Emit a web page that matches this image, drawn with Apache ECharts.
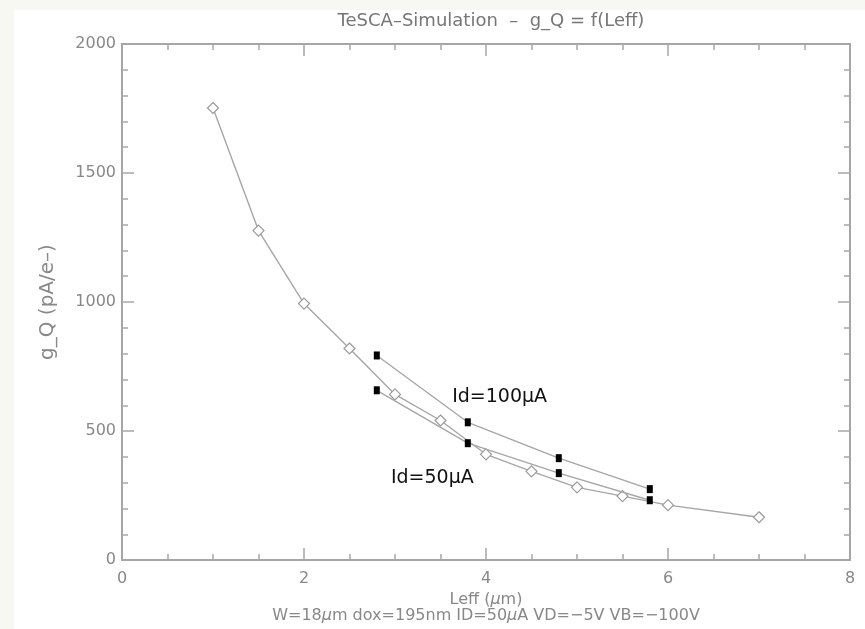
<!DOCTYPE html>
<html><head><meta charset="utf-8">
<script src="https://cdn.jsdelivr.net/npm/echarts@6/dist/echarts.min.js"></script>
<style>html,body{margin:0;padding:0;background:#f7f8f2}#c{width:865px;height:629px}</style>
</head><body><div id="c"></div>
<script>
// Simulation curve (open diamonds)
const leff = [1, 1.5, 2, 2.5, 3, 3.5, 4, 4.5, 5, 5.5, 6, 7];
const gq = [1752, 1277, 994, 820, 642, 541, 410, 344, 282, 248, 213, 166];
// Measured points (black squares)
const leffId = [2.8, 3.8, 4.8, 5.8];
const gq100 = [793, 534, 395, 275];
const gq50 = [658, 453, 337, 232];
// Annotations [x, y, text]
const labelId100 = [4.15, 630, 'Id=100µA'];
const labelId50 = [3.41, 317, 'Id=50µA'];
const xTicks = [0, 2, 4, 6, 8];
const yTicks = [0, 500, 1000, 1500, 2000];

const gray = '#a6a6a6';
const txt = '#888888';
const font = 'DejaVu Sans';

const chart = echarts.init(document.getElementById('c'));
const zip = (xs, ys) => xs.map((x, i) => [x, ys[i]]);

const axisLine = { show: true, onZero: false, lineStyle: { color: gray, width: 2 } };
const axisTick = { show: true, inside: true, length: 12, lineStyle: { color: gray, width: 1.5 } };
const minorX = { show: true, splitNumber: 4, length: 6, lineStyle: { color: gray, width: 1.5 } };
const minorY = { show: true, splitNumber: 5, length: 6, lineStyle: { color: gray, width: 1.5 } };
const fmt = v => String(v);

chart.setOption({
  backgroundColor: '#f7f8f2',
  animation: false,
  graphic: [{ type: 'rect', shape: { x: 14, y: 10, width: 851, height: 619 }, style: { fill: '#ffffff' }, z: -10 }],
  title: {
    text: 'TeSCA\u2013Simulation  \u2013  g_Q = f(Leff)',
    left: 486, top: 7, textAlign: 'center',
    textStyle: { color: '#767676', fontSize: 18, fontWeight: 'normal', fontFamily: font }
  },
  grid: { left: 122, right: 15, top: 44, bottom: 68 },
  xAxis: [
    {
      type: 'value', min: xTicks[0], max: xTicks[xTicks.length - 1], interval: 2,
      position: 'bottom', axisLine, axisTick, minorTick: minorX, splitLine: { show: false },
      axisLabel: { color: txt, fontSize: 16, fontFamily: font, margin: 11, formatter: fmt },
      name: '{n|Leff (}{i|\u00b5}{n|m)}\n{n|W=18}{i|\u00b5}{n|m dox=195nm ID=50}{i|\u00b5}{n|A VD=\u22125V VB=\u2212100V}',
      nameLocation: 'middle', nameGap: 31,
      nameTextStyle: {
        color: txt, fontFamily: font, fontSize: 16, lineHeight: 16,
        rich: {
          n: { color: txt, fontFamily: font, fontSize: 16, lineHeight: 16 },
          i: { color: txt, fontFamily: font, fontSize: 16, lineHeight: 16, fontStyle: 'italic' }
        }
      }
    },
    {
      type: 'value', min: xTicks[0], max: xTicks[xTicks.length - 1], interval: 2, position: 'top',
      axisLine, axisTick, minorTick: minorX, axisLabel: { show: false }, splitLine: { show: false }
    }
  ],
  yAxis: [
    {
      type: 'value', min: yTicks[0], max: yTicks[yTicks.length - 1], interval: 500, position: 'left',
      axisLine, axisTick, minorTick: minorY, splitLine: { show: false },
      axisLabel: { color: txt, fontSize: 16, fontFamily: font, margin: 6, formatter: fmt },
      name: 'g_Q (pA/e\u2013)', nameLocation: 'middle', nameGap: 64, nameRotate: 90,
      nameTextStyle: { color: txt, fontSize: 20, fontFamily: font }
    },
    {
      type: 'value', min: yTicks[0], max: yTicks[yTicks.length - 1], interval: 500, position: 'right',
      axisLine, axisTick, minorTick: minorY, splitLine: { show: false }, axisLabel: { show: false }
    }
  ],
  series: [
    {
      type: 'line', data: zip(leff, gq), symbol: 'diamond', symbolSize: 11,
      lineStyle: { color: gray, width: 1.4 },
      itemStyle: { color: '#ffffff', borderColor: '#9a9a9a', borderWidth: 1.2 }, z: 3
    },
    {
      type: 'line', data: zip(leffId, gq100), symbol: 'rect', symbolSize: [6, 8],
      lineStyle: { color: gray, width: 1.4 }, itemStyle: { color: '#000000' }, z: 4,
      markPoint: {
        symbol: 'rect', symbolSize: 0,
        data: [{ coord: [labelId100[0], labelId100[1]], value: labelId100[2] }],
        label: { show: true, formatter: labelId100[2], color: '#111', fontSize: 19, fontFamily: font, position: 'inside' }
      }
    },
    {
      type: 'line', data: zip(leffId, gq50), symbol: 'rect', symbolSize: [6, 8],
      lineStyle: { color: gray, width: 1.4 }, itemStyle: { color: '#000000' }, z: 4,
      markPoint: {
        symbol: 'rect', symbolSize: 0,
        data: [{ coord: [labelId50[0], labelId50[1]], value: labelId50[2] }],
        label: { show: true, formatter: labelId50[2], color: '#111', fontSize: 19, fontFamily: font, position: 'inside' }
      }
    }
  ]
});
</script></body></html>
